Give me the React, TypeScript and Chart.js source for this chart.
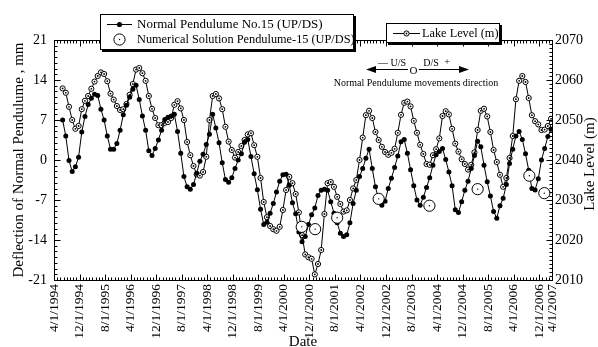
import React, { useEffect, useRef } from "react";
import { Chart, registerables } from "chart.js";

Chart.register(...registerables);

// ---- DATA ----
// x axis unit: months after 4/1/1994; readings are monthly, the first one in mid-June 1994
const START_MONTH = 2.7;

const pendulum = [
  7.0, 4.2, -0.1, -2.0, -1.2, 0.5, 4.9, 7.6, 9.7, 10.8,
  11.5, 11.3, 8.9, 7.0, 4.2, 1.9, 1.9, 2.9, 5.2, 7.9,
  9.6, 11.0, 12.4, 13.1, 10.6, 7.7, 5.2, 1.6, 0.8, 2.0,
  3.5, 5.2, 7.1, 7.5, 7.7, 8.0, 5.0, 1.2, -2.9, -4.7,
  -5.1, -4.3, -2.3, -0.2, 1.0, 2.7, 4.5, 8.0, 5.6, 3.0,
  -0.5, -3.4, -3.9, -3.1, -1.5, 0.0, 1.1, 3.1, 3.6, 0.6,
  -2.4, -5.2, -8.6, -11.3, -10.9, -9.3, -7.6, -5.6, -3.7, -2.6,
  -2.5, -4.4, -7.5, -9.4, -12.6, -14.3, -13.4, -11.3, -9.6, -8.4,
  -6.2, -5.3, -5.1, -5.3, -7.3, -9.3, -11.0, -12.8, -13.4, -13.1,
  -11.0, -7.6, -5.3, -2.9, -1.5, 0.3, 1.9, -1.5, -4.7, -7.0,
  -7.9, -7.2, -5.0, -3.2, -1.3, 0.7, 3.2, 3.6, 1.2, -1.7,
  -4.5, -7.0, -7.9, -6.5, -4.8, -3.1, -0.9, 0.9, 1.5, 2.0,
  0.1, -2.1, -4.5, -8.7, -9.2, -7.3, -5.3, -3.7, -1.5, 0.8,
  3.3, 2.3, -0.9, -3.8, -6.3, -9.0, -10.2, -8.0, -6.7, -4.3,
  -0.6, 1.9, 4.2, 5.0, 3.6, 1.1, -1.8, -5.0, -5.25, -3.3,
  0.0, 2.0, 4.1, 5.4,
];

const lakeLevel = [
  2057.9, 2056.8, 2053.3, 2050.0, 2047.8, 2048.5, 2052.7, 2054.8, 2056.0, 2057.8,
  2059.6, 2061.0, 2061.9, 2061.5, 2059.7, 2056.6, 2055.1, 2053.5, 2052.5, 2052.7,
  2054.0, 2056.3, 2059.0, 2062.6, 2063.0, 2061.7, 2059.8, 2056.0, 2052.8, 2050.5,
  2048.7, 2048.7, 2049.3, 2049.5, 2050.5, 2053.8, 2054.7, 2052.9, 2050.0, 2044.5,
  2041.2, 2038.5, 2036.4, 2036.1, 2037.0, 2040.8, 2050.0, 2056.0, 2056.5, 2055.4,
  2052.7, 2048.3, 2044.6, 2042.5, 2040.6, 2042.0, 2043.5, 2045.0, 2046.4, 2046.7,
  2043.7, 2040.8, 2035.5, 2029.5, 2025.7, 2023.5, 2022.7, 2022.3, 2023.3, 2027.5,
  2032.5, 2035.8, 2034.2, 2031.5, 2026.9, 2021.2, 2016.4, 2015.7, 2015.3, 2011.4,
  2014.0, 2017.5, 2026.5, 2034.2, 2034.5, 2033.3, 2030.8, 2029.0, 2027.1, 2027.4,
  2030.0, 2032.9, 2035.0, 2040.0, 2045.6, 2051.2, 2052.3, 2050.5, 2047.0, 2045.0,
  2043.3, 2042.0, 2041.3, 2041.8, 2042.8, 2046.8, 2051.3, 2054.3, 2054.6, 2053.4,
  2049.8, 2046.8, 2043.8, 2041.5, 2039.0, 2038.8, 2041.2, 2042.7, 2045.4, 2051.0,
  2052.2, 2051.4, 2047.8, 2044.1, 2042.1, 2040.2, 2039.0, 2037.6, 2038.8, 2041.9,
  2047.5, 2052.3, 2052.8, 2050.9, 2047.0, 2042.5, 2039.5, 2036.3, 2033.3, 2035.5,
  2040.5, 2046.0, 2055.2, 2059.8, 2061.0, 2059.5, 2055.5, 2051.2, 2049.7, 2048.9,
  2047.5, 2047.6, 2048.5, 2050.3,
];

const numericalMonths = [77.6, 81.8, 88.7, 101.7, 117.6, 132.7, 148.9, 153.6];
const numericalValues = [-11.7, -12.1, -10.1, -6.8, -8.0, -5.1, -2.75, -5.8];

const xTickMonths = [0, 8, 16, 24, 32, 40, 48, 56, 64, 72, 80, 88, 96, 104, 112, 120, 128, 136, 144, 152, 156];
const xTickLabels = [
  "4/1/1994", "12/1/1994", "8/1/1995", "4/1/1996", "12/1/1996", "8/1/1997", "4/1/1998",
  "12/1/1998", "8/1/1999", "4/1/2000", "12/1/2000", "8/1/2001", "4/1/2002", "12/1/2002",
  "8/1/2003", "4/1/2004", "12/1/2004", "8/1/2005", "4/1/2006", "12/1/2006", "4/1/2007",
];
const X_MIN = 0;
const X_MAX = 156;
const leftTicks = [-21, -14, -7, 0, 7, 14, 21];
const rightTicks = [2010, 2020, 2030, 2040, 2050, 2060, 2070];

const seriesNames = [
  "Normal Pendulume No.15 (UP/DS)",
  "Numerical Solution Pendulume-15 (UP/DS)",
  "Lake Level (m)",
];
const leftTitle = "Deflection of Normal Pendulume , mm";
const rightTitle = "Lake Level (m)";
const xTitle = "Date";
const noteText = "Normal Pendulume movements direction";

const FONT = "'Liberation Serif', 'Times New Roman', Times, serif";

const LAKE_R = 2.6;
const BIG_R = 5.6;

function openDotMarker(ctx: CanvasRenderingContext2D, x: number, y: number, r: number, dot: number) {
  ctx.beginPath();
  ctx.arc(x, y, r, 0, Math.PI * 2);
  ctx.fillStyle = "#fff";
  ctx.fill();
  ctx.lineWidth = 1;
  ctx.strokeStyle = "#000";
  ctx.stroke();
  ctx.beginPath();
  ctx.arc(x, y, dot, 0, Math.PI * 2);
  ctx.fillStyle = "#000";
  ctx.fill();
}

function boxWithShadow(ctx: CanvasRenderingContext2D, x: number, y: number, w: number, h: number) {
  ctx.fillStyle = "#000";
  ctx.fillRect(x + 2, y + 2, w + 1, h + 1);
  ctx.fillStyle = "#fff";
  ctx.fillRect(x, y, w, h);
  ctx.strokeStyle = "#000";
  ctx.lineWidth = 1;
  ctx.strokeRect(x + 0.5, y + 0.5, w, h);
}

export default function App() {
  const ref = useRef<HTMLCanvasElement>(null);

  useEffect(() => {
    const canvas = ref.current!;

    const decor = {
      id: "decor",
      afterDatasetDraw(chart: any, args: any) {
        // centre dots of the open markers
        const ds = chart.data.datasets[args.index];
        const dot = ds.centerDot;
        if (!dot) return;
        const ctx = chart.ctx;
        ctx.save();
        ctx.fillStyle = "#000";
        for (const el of args.meta.data) {
          ctx.beginPath();
          ctx.arc(el.x, el.y, dot, 0, Math.PI * 2);
          ctx.fill();
        }
        ctx.restore();
      },
      afterDatasetsDraw(chart: any) {
        const { ctx, chartArea: a, scales } = chart;
        const xs = scales.x, ys = scales.y, y1 = scales.y1;
        ctx.save();
        ctx.strokeStyle = "#000";
        ctx.lineWidth = 1;
        const L = Math.round(a.left) + 0.5, R = Math.round(a.right) + 0.5;
        const T = Math.round(a.top) + 0.5, B = Math.round(a.bottom) + 0.5;
        ctx.strokeRect(L, T, R - L, B - T);
        ctx.beginPath();
        for (let v = leftTicks[0]; v <= leftTicks[leftTicks.length - 1]; v += 1) {
          const p = Math.round(ys.getPixelForValue(v)) + 0.5;
          const len = leftTicks.includes(v) ? 6 : 3;
          ctx.moveTo(L, p); ctx.lineTo(L + len, p);
        }
        for (let v = rightTicks[0]; v <= rightTicks[rightTicks.length - 1]; v += 1) {
          const p = Math.round(y1.getPixelForValue(v)) + 0.5;
          const len = rightTicks.includes(v) ? 6 : 3;
          ctx.moveTo(R, p); ctx.lineTo(R - len, p);
        }
        for (let m = X_MIN; m <= X_MAX; m += 1) {
          const p = Math.round(xs.getPixelForValue(m)) + 0.5;
          const len = xTickMonths.includes(m) ? 6 : 3;
          ctx.moveTo(p, B); ctx.lineTo(p, B - len);
          ctx.moveTo(p, T); ctx.lineTo(p, T + len);
        }
        ctx.stroke();
        ctx.restore();
      },
      afterDraw(chart: any) {
        const { ctx, chartArea: a } = chart;
        ctx.save();
        ctx.fillStyle = "#000";
        ctx.textBaseline = "middle";

        // axis titles
        ctx.font = `15px ${FONT}`;
        ctx.textAlign = "center";
        ctx.save();
        ctx.translate(19, (a.top + a.bottom) / 2);
        ctx.rotate(-Math.PI / 2);
        ctx.fillText(leftTitle, 0, 0);
        ctx.restore();
        ctx.save();
        ctx.translate(590, (a.top + a.bottom) / 2 + 4);
        ctx.rotate(-Math.PI / 2);
        ctx.fillText(rightTitle, 0, 0);
        ctx.restore();
        ctx.fillText(xTitle, (a.left + a.right) / 2, 342);

        // legend 1
        boxWithShadow(ctx, 100, 14, 253, 35);
        ctx.strokeStyle = "#000";
        ctx.lineWidth = 1;
        ctx.beginPath();
        ctx.moveTo(107, 24.5); ctx.lineTo(132, 24.5);
        ctx.stroke();
        ctx.beginPath();
        ctx.arc(119.5, 24.5, 2.6, 0, Math.PI * 2);
        ctx.fillStyle = "#000";
        ctx.fill();
        openDotMarker(ctx, 119.5, 39.5, BIG_R, 0.7);
        ctx.fillStyle = "#000";
        ctx.textAlign = "left";
        ctx.font = `13px ${FONT}`;
        ctx.fillText(seriesNames[0], 137, 25);
        ctx.font = `12.3px ${FONT}`;
        ctx.fillText(seriesNames[1], 137, 40);

        // legend 2
        boxWithShadow(ctx, 386, 23, 113, 19);
        ctx.strokeStyle = "#000";
        ctx.beginPath();
        ctx.moveTo(393, 33.5); ctx.lineTo(420, 33.5);
        ctx.stroke();
        openDotMarker(ctx, 406.5, 33.5, LAKE_R, 0.9);
        ctx.fillStyle = "#000";
        ctx.font = `12.3px ${FONT}`;
        ctx.fillText(seriesNames[2], 422, 34);

        // direction annotation
        const ay = 69.5;
        ctx.strokeStyle = "#000";
        ctx.beginPath();
        ctx.moveTo(374, ay); ctx.lineTo(408, ay);
        ctx.moveTo(419, ay); ctx.lineTo(461, ay);
        ctx.stroke();
        ctx.beginPath();
        ctx.moveTo(366, ay); ctx.lineTo(376, ay - 3.5); ctx.lineTo(376, ay + 3.5); ctx.closePath();
        ctx.moveTo(469, ay); ctx.lineTo(459, ay - 3.5); ctx.lineTo(459, ay + 3.5); ctx.closePath();
        ctx.fill();
        ctx.font = `10px ${FONT}`;
        ctx.textAlign = "center";
        ctx.fillText("\u2014 U/S", 392, 63);
        ctx.fillText("D/S", 431, 63);
        ctx.fillText("+", 447, 62);
        ctx.font = `11px ${FONT}`;
        ctx.fillText("O", 413.5, 71);
        ctx.font = `10px ${FONT}`;
        ctx.fillText(noteText, 416, 83);
        ctx.restore();
      },
    };

    const chart = new Chart(canvas, {
      type: "line",
      data: {
        datasets: [
          {
            label: seriesNames[1],
            data: numericalMonths.map((m, i) => ({ x: m, y: numericalValues[i] })),
            showLine: false,
            pointStyle: "circle",
            pointRadius: BIG_R,
            pointBackgroundColor: "#fff",
            pointBorderColor: "#000",
            pointBorderWidth: 1,
            centerDot: 0.7,
            yAxisID: "y",
          } as any,
          {
            label: seriesNames[0],
            data: pendulum.map((v, i) => ({ x: START_MONTH + i, y: v })),
            borderColor: "#000",
            borderWidth: 1,
            backgroundColor: "#000",
            pointBackgroundColor: "#000",
            pointBorderColor: "#000",
            pointRadius: 2.5,
            pointBorderWidth: 0,
            pointStyle: "circle",
            tension: 0,
            yAxisID: "y",
          },
          {
            label: seriesNames[2],
            data: lakeLevel.map((v, i) => ({ x: START_MONTH + i, y: v })),
            borderColor: "#000",
            borderWidth: 1,
            pointStyle: "circle",
            pointRadius: LAKE_R,
            pointBackgroundColor: "#fff",
            pointBorderColor: "#000",
            pointBorderWidth: 1,
            centerDot: 0.9,
            tension: 0,
            yAxisID: "y1",
          } as any,
        ],
      },
      options: {
        responsive: false,
        animation: false,
        devicePixelRatio: 1,
        layout: { padding: { top: 40, left: 0, right: 0, bottom: 0 } },
        plugins: { legend: { display: false }, tooltip: { enabled: false } },
        scales: {
          x: {
            type: "linear",
            position: "bottom",
            min: X_MIN,
            max: X_MAX,
            afterBuildTicks: (s: any) => { s.ticks = xTickMonths.map((v) => ({ value: v })); },
            afterFit: (s: any) => { s.height = 67; },
            grid: { display: false, drawTicks: false },
            border: { display: false },
            ticks: {
              autoSkip: false,
              minRotation: 90,
              maxRotation: 90,
              padding: 4,
              color: "#000",
              font: { family: FONT, size: 13.5 },
              callback: (_v: any, i: number) => xTickLabels[i],
            },
          },
          y: {
            type: "linear",
            position: "left",
            min: leftTicks[0],
            max: leftTicks[leftTicks.length - 1],
            afterBuildTicks: (s: any) => { s.ticks = leftTicks.map((v) => ({ value: v })); },
            afterFit: (s: any) => { s.width = 54; },
            grid: { display: false, drawTicks: false },
            border: { display: false },
            ticks: {
              padding: 7, color: "#000", font: { family: FONT, size: 14 },
              callback: (v: any) => String(v),
            },
          },
          y1: {
            type: "linear",
            position: "right",
            min: rightTicks[0],
            max: rightTicks[rightTicks.length - 1],
            afterBuildTicks: (s: any) => { s.ticks = rightTicks.map((v) => ({ value: v })); },
            afterFit: (s: any) => { s.width = 46; },
            grid: { display: false, drawTicks: false },
            border: { display: false },
            ticks: {
              padding: 3, color: "#000", font: { family: FONT, size: 14 },
              callback: (v: any) => String(v),
            },
          },
        },
      },
      plugins: [decor],
    });
    return () => chart.destroy();
  }, []);

  return (
    <div style={{ position: "absolute", left: 0, top: 0, width: 598, height: 347, background: "#fff" }}>
      <canvas ref={ref} width={598} height={347} style={{ display: "block", width: 598, height: 347 }} />
    </div>
  );
}
